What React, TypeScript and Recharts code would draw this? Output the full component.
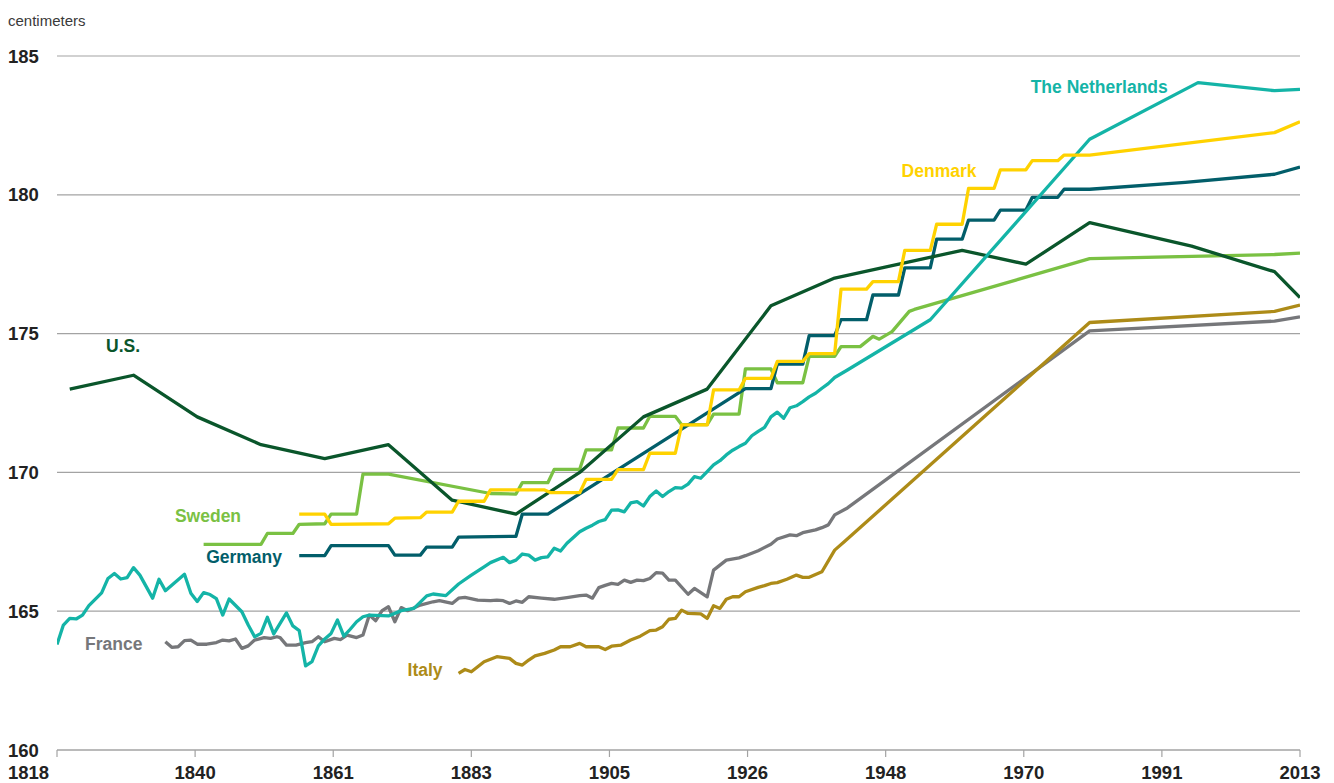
import { CartesianGrid, Line, LineChart, ReferenceDot, XAxis, YAxis } from "recharts";

type Pt = [number, number];

// x-axis: evenly spaced ticks between the first and last year
const xTickLabels = ["1818", "1840", "1861", "1883", "1905", "1926", "1948", "1970", "1991", "2013"];
const xDomain: [number, number] = [1818, 2013];
const xTicks = xTickLabels.map((_, i) => xDomain[0] + (i * (xDomain[1] - xDomain[0])) / (xTickLabels.length - 1));
const yTicks = [160, 165, 170, 175, 180, 185];

const netherlands: Pt[] = [
  [1818, 163.8], [1819, 164.5], [1820, 164.74], [1821, 164.72], [1822, 164.86], [1823, 165.2],
  [1825, 165.66], [1826, 166.18], [1827, 166.36], [1828, 166.16], [1829, 166.21], [1830, 166.57],
  [1831, 166.3], [1833, 165.47], [1834, 166.15], [1835, 165.74], [1838, 166.33], [1839, 165.65],
  [1840, 165.35], [1841, 165.67], [1842, 165.6], [1843, 165.45], [1844, 164.86], [1845, 165.44],
  [1847, 164.98], [1848, 164.5], [1849, 164.08], [1850, 164.2], [1851, 164.78], [1852, 164.18],
  [1854, 164.94], [1855, 164.47], [1856, 164.3], [1857, 163.03], [1858, 163.18], [1859, 163.75],
  [1860, 164.0], [1861, 164.2], [1862, 164.68], [1863, 164.1], [1864, 164.35], [1865, 164.62],
  [1866, 164.8], [1867, 164.86], [1870, 164.83], [1872, 165.02], [1874, 165.1], [1876, 165.55],
  [1877, 165.62], [1879, 165.56], [1881, 165.98], [1883, 166.3], [1885, 166.6], [1886, 166.75],
  [1888, 166.94], [1889, 166.75], [1890, 166.84], [1891, 167.06], [1892, 167.02], [1893, 166.84],
  [1894, 166.93], [1895, 166.96], [1896, 167.27], [1897, 167.17], [1898, 167.45], [1900, 167.86],
  [1901, 167.99], [1902, 168.1], [1903, 168.23], [1904, 168.3], [1905, 168.64], [1906, 168.65],
  [1907, 168.58], [1908, 168.9], [1909, 168.95], [1910, 168.79], [1911, 169.13], [1912, 169.33],
  [1913, 169.13], [1914, 169.31], [1915, 169.45], [1916, 169.43], [1917, 169.58], [1918, 169.85],
  [1919, 169.79], [1920, 170.03], [1921, 170.27], [1922, 170.42], [1923, 170.63], [1924, 170.8],
  [1925, 170.93], [1926, 171.05], [1927, 171.32], [1928, 171.48], [1929, 171.62], [1930, 172.0],
  [1931, 172.17], [1932, 171.95], [1933, 172.33], [1934, 172.4], [1935, 172.55], [1936, 172.72],
  [1937, 172.85], [1938, 173.03], [1939, 173.2], [1940, 173.42], [1942, 173.69], [1955, 175.5],
  [1980, 182.0], [1997, 184.04], [2009, 183.75], [2013, 183.8],
];

const denmark: Pt[] = [
  [1856, 168.5], [1860, 168.5], [1861, 168.13], [1870, 168.15], [1871, 168.35], [1875, 168.37],
  [1876, 168.57], [1880, 168.57], [1881, 168.96], [1885, 168.96], [1886, 169.37], [1894.5, 169.37],
  [1895.5, 169.27], [1900, 169.27], [1901, 169.75], [1905, 169.75], [1906, 170.1], [1910, 170.1],
  [1911, 170.69], [1915, 170.69], [1916, 171.71], [1920, 171.71], [1921, 172.97], [1925, 172.97],
  [1926, 173.39], [1930, 173.39], [1931, 174.0], [1935, 174.0], [1936, 174.28], [1940, 174.28],
  [1941, 176.6], [1945, 176.6], [1946, 176.87], [1950, 176.87], [1951, 178.0], [1955, 178.0],
  [1956, 178.94], [1960, 178.94], [1961, 180.23], [1965, 180.23], [1966, 180.9], [1970, 180.9],
  [1971, 181.23], [1975, 181.23], [1976, 181.43], [1980, 181.43], [2009, 182.24], [2013, 182.63],
];

const germany: Pt[] = [
  [1856, 167.0], [1860, 167.0], [1861, 167.36], [1870, 167.36], [1871, 167.02], [1875, 167.02],
  [1876, 167.31], [1880, 167.31], [1881, 167.67], [1890, 167.7], [1891, 168.5], [1895, 168.5],
  [1926, 173.02], [1930, 173.02], [1931, 173.9], [1935, 173.9], [1936, 174.93], [1940, 174.93],
  [1941, 175.5], [1945, 175.5], [1946, 176.39], [1950, 176.39], [1951, 177.37], [1955, 177.37],
  [1956, 178.4], [1960, 178.4], [1961, 179.09], [1965, 179.09], [1966, 179.45], [1970, 179.45],
  [1971, 179.91], [1975, 179.91], [1976, 180.2], [1980, 180.2], [1995, 180.45], [2009, 180.74],
  [2013, 181.0],
];

const usa: Pt[] = [
  [1820, 173.0], [1830, 173.5], [1840, 172.0], [1850, 171.0], [1860, 170.5], [1870, 171.0],
  [1880, 169.0], [1890, 168.5], [1900, 170.0], [1910, 172.0], [1920, 173.0], [1930, 176.0],
  [1940, 177.0], [1960, 178.0], [1970, 177.5], [1980, 179.0], [1996, 178.15], [2009, 177.23],
  [2013, 176.3],
];

const sweden: Pt[] = [
  [1841, 167.41], [1850, 167.41], [1851, 167.8], [1855, 167.8], [1856, 168.13], [1860, 168.15],
  [1861, 168.5], [1865, 168.5], [1866, 169.94], [1870, 169.94], [1886, 169.24], [1890, 169.22],
  [1891, 169.63], [1895, 169.63], [1896, 170.11], [1900, 170.11], [1901, 170.81], [1905, 170.81],
  [1906, 171.6], [1910, 171.6], [1911, 172.02], [1915, 172.02], [1916, 171.72], [1920, 171.72],
  [1921, 172.1], [1925, 172.1], [1926, 173.73], [1930, 173.73], [1931, 173.23], [1935, 173.23],
  [1936, 174.18], [1940, 174.18], [1941, 174.53], [1944, 174.53], [1946, 174.9], [1947, 174.8],
  [1949, 175.07], [1951.7, 175.8], [1952.5, 175.87], [1980, 177.7], [2009, 177.85], [2013, 177.9],
];

const france: Pt[] = [
  [1835, 163.9], [1836, 163.7], [1837, 163.72], [1838, 163.94], [1839, 163.96], [1840, 163.81],
  [1841.5, 163.81], [1843, 163.87], [1844, 163.96], [1845, 163.93], [1846, 164.0], [1847, 163.66],
  [1848, 163.75], [1849, 163.96], [1850.5, 164.05], [1851.5, 164.02], [1852.5, 164.08], [1853, 164.05],
  [1854, 163.78], [1855.5, 163.78], [1857, 163.87], [1858, 163.9], [1859, 164.08], [1860, 163.9],
  [1861.5, 164.02], [1862.5, 163.98], [1863.5, 164.14], [1865, 164.05], [1866, 164.14], [1867, 164.86],
  [1868, 164.66], [1869, 165.02], [1870, 165.16], [1871, 164.62], [1872, 165.13], [1873, 165.02],
  [1875, 165.22], [1877, 165.34], [1878, 165.38], [1880, 165.28], [1881, 165.47], [1882, 165.5],
  [1884, 165.4], [1886, 165.38], [1887, 165.4], [1888, 165.38], [1889, 165.28], [1890, 165.37],
  [1891, 165.32], [1892, 165.52], [1894, 165.47], [1896, 165.43], [1898, 165.49], [1900, 165.56],
  [1901, 165.58], [1902, 165.47], [1903, 165.85], [1904, 165.93], [1905, 166.0], [1906, 165.97],
  [1907, 166.12], [1908, 166.04], [1909, 166.12], [1910, 166.1], [1911, 166.18], [1912, 166.39],
  [1913, 166.37], [1914, 166.12], [1915, 166.12], [1917, 165.61], [1918, 165.82], [1920, 165.52],
  [1921, 166.48], [1922, 166.66], [1923, 166.84], [1925, 166.92], [1926, 167.0], [1928, 167.18],
  [1930, 167.41], [1931, 167.6], [1933, 167.75], [1934, 167.72], [1935, 167.83], [1937, 167.93],
  [1938, 168.01], [1939, 168.11], [1940, 168.47], [1942, 168.72], [1980, 175.1], [2009, 175.45],
  [2013, 175.6],
];

const italy: Pt[] = [
  [1881, 162.76], [1882, 162.9], [1883, 162.82], [1884, 163.0], [1885, 163.18], [1887, 163.36],
  [1889, 163.3], [1890, 163.12], [1891, 163.06], [1892, 163.24], [1893, 163.39], [1894.5, 163.48],
  [1896, 163.6], [1897, 163.72], [1898.5, 163.72], [1900, 163.84], [1901, 163.72], [1903, 163.72],
  [1904, 163.62], [1905, 163.74], [1906.5, 163.78], [1908, 163.96], [1909.5, 164.1], [1911, 164.3],
  [1912, 164.32], [1913, 164.44], [1914, 164.71], [1915, 164.74], [1916, 165.04], [1917, 164.92],
  [1919, 164.9], [1920, 164.74], [1921, 165.2], [1922, 165.1], [1923, 165.43], [1924, 165.52],
  [1925, 165.52], [1926, 165.7], [1928, 165.86], [1929, 165.92], [1930, 166.0], [1931, 166.03],
  [1932.5, 166.15], [1934, 166.3], [1935, 166.22], [1936, 166.22], [1938, 166.42], [1940, 167.2],
  [1941.5, 167.5], [1980, 175.4], [2009, 175.8], [2013, 176.03],
];

type Series = { name: string; color: string; points: Pt[]; label: Pt };

// label anchor = left edge / vertical centre of each name, in data units
const series: Series[] = [
  { name: "France", color: "#76777a", points: france, label: [1822.4, 163.83] },
  { name: "Italy", color: "#ad8b18", points: italy, label: [1873.0, 162.88] },
  { name: "Sweden", color: "#7ac143", points: sweden, label: [1836.5, 168.44] },
  { name: "Germany", color: "#025e6a", points: germany, label: [1841.4, 166.95] },
  { name: "U.S.", color: "#0a562b", points: usa, label: [1825.7, 174.55] },
  { name: "The Netherlands", color: "#14b4a7", points: netherlands, label: [1970.75, 183.87] },
  { name: "Denmark", color: "#ffd200", points: denmark, label: [1950.5, 180.87] },
];

const FONT = '"Liberation Sans", Arial, Helvetica, sans-serif';

const toRows = (pts: Pt[]) => pts.map(([year, cm]) => ({ year, cm }));

function XTick({ x, y, index }: any) {
  const first = index === 0;
  return (
    <text
      x={first ? 8 : x}
      y={y + 20}
      textAnchor={first ? "start" : "middle"}
      fontFamily={FONT}
      fontSize={18.5}
      fontWeight={700}
      fill="#222"
    >
      {xTickLabels[index]}
    </text>
  );
}

function YTick({ y, payload }: any) {
  return (
    <text x={8} y={y} dy={6.5} fontFamily={FONT} fontSize={18.5} fontWeight={700} fill="#222">
      {payload.value}
    </text>
  );
}

export default function App() {
  return (
    <div style={{ position: "absolute", left: 0, top: 0, width: 1334, height: 783, background: "#fff", fontFamily: FONT }}>
      <div style={{ position: "absolute", left: 8, top: 13, fontSize: 15, lineHeight: "15px", color: "#3a3a3a" }}>
        centimeters
      </div>
      <LineChart width={1334} height={783} margin={{ top: 56, right: 34, bottom: 0, left: 0 }}>
        <CartesianGrid vertical={false} stroke="#a3a3a3" strokeWidth={1.2} />
        <XAxis
          type="number"
          dataKey="year"
          domain={xDomain}
          ticks={xTicks}
          interval={0}
          height={33}
          tickSize={7}
          axisLine={{ stroke: "#a3a3a3", strokeWidth: 1.2 }}
          tickLine={{ stroke: "#a3a3a3", strokeWidth: 1.2 }}
          tick={<XTick />}
          allowDataOverflow
        />
        <YAxis
          type="number"
          domain={[160, 185]}
          ticks={yTicks}
          interval={0}
          width={57}
          axisLine={false}
          tickLine={false}
          tick={<YTick />}
        />
        {series.map((s) => (
          <Line
            key={s.name}
            name={s.name}
            data={toRows(s.points)}
            dataKey="cm"
            type="linear"
            stroke={s.color}
            strokeWidth={3.3}
            strokeLinejoin="round"
            dot={false}
            activeDot={false}
            isAnimationActive={false}
          />
        ))}
        {series.map((s) => (
          <ReferenceDot
            key={`label-${s.name}`}
            x={s.label[0]}
            y={s.label[1]}
            r={0}
            ifOverflow="visible"
            shape={(p: any) => (
              <text
                x={p.cx}
                y={p.cy}
                dy={6}
                fontFamily={FONT}
                fontSize={17.5}
                fontWeight={700}
                fill={s.color}
              >
                {s.name}
              </text>
            )}
          />
        ))}
      </LineChart>
    </div>
  );
}
